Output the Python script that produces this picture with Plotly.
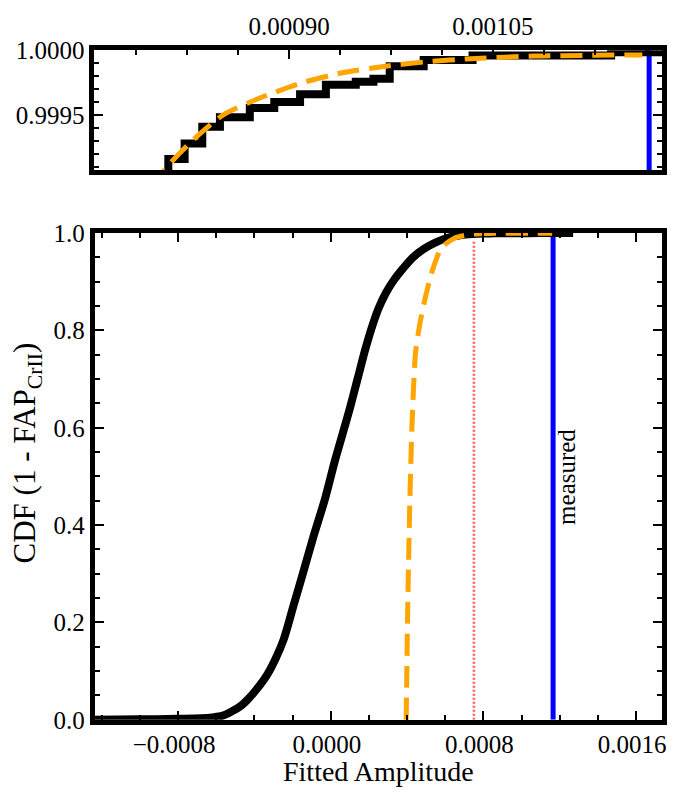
import plotly.graph_objects as go

W, H = 674, 800

# Empirical CDF of the fitted amplitudes: smooth body of the distribution
cdf_x = [-0.00130, -0.00100, -0.00080, -0.00068, -0.00062, -0.00057, -0.00052,
         -0.00047, -0.000437, -0.00039, -0.000333, -0.00029, -0.000247, -0.000195,
         -0.000143, -0.000092, -0.000031, 0.00002, 0.00006, 0.00010, 0.00014,
         0.00018, 0.00021, 0.00025, 0.00029, 0.00033, 0.00038, 0.00043, 0.00049,
         0.00055, 0.00061, 0.00067, 0.00072, 0.00077]
cdf_y = [0.0, 0.001, 0.002, 0.003, 0.005, 0.008, 0.017,
         0.029, 0.041, 0.062, 0.093, 0.125, 0.165, 0.235,
         0.305, 0.375, 0.453, 0.53, 0.585, 0.64, 0.70,
         0.76, 0.80, 0.845, 0.878, 0.903, 0.928, 0.95, 0.968,
         0.981, 0.990, 0.995, 0.9975, 0.9988]

# Upper tail of the same CDF (individual steps)
tail_x = [0.000811, 0.000823, 0.000836, 0.000849, 0.000871, 0.000889, 0.000908,
          0.000927, 0.000949, 0.000962, 0.000974, 0.000999, 0.001035, 0.001137,
          0.00127]
tail_y = [0.999164, 0.999283, 0.999413, 0.999486, 0.999556, 0.999603, 0.999662,
          0.999734, 0.999758, 0.999781, 0.999877, 0.999924, 0.999960, 0.999985,
          1.0]

# Fitted model CDF
fit_x = [0.000395, 0.000398, 0.000402, 0.000408, 0.000415, 0.000425, 0.000444,
         0.000465, 0.000487, 0.000528, 0.00058, 0.00065, 0.00072, 0.000765,
         0.000808, 0.00083, 0.000852, 0.000877, 0.000908, 0.00094, 0.000971,
         0.001002, 0.001034, 0.00108, 0.00116]
fit_y = [0.0, 0.08, 0.2, 0.33, 0.46, 0.6, 0.754,
         0.81, 0.853, 0.918, 0.97, 0.99, 0.9966, 0.9984,
         0.99908, 0.999318, 0.999508, 0.999627, 0.999746, 0.999829, 0.999877,
         0.999912, 0.999935, 0.999955, 0.999964]

measured_amp = 0.001165      # measured amplitude
threshold_amp = 0.000750     # detection threshold
threshold_top = 0.985

all_x = cdf_x + tail_x
all_y = cdf_y + tail_y

FONT = "Liberation Serif"
BLACK_W = 8
ORANGE = "#FFA500"
DASH = "22px,10px"

fig = go.Figure()

# ---- lower panel (x2, y2) ----
fig.add_trace(go.Scatter(x=[measured_amp, measured_amp], y=[0, 1], xaxis="x2", yaxis="y2",
                         mode="lines", line=dict(color="#0000FF", width=5)))
fig.add_trace(go.Scatter(x=[threshold_amp, threshold_amp], y=[0, threshold_top],
                         xaxis="x2", yaxis="y2", mode="lines",
                         line=dict(color="rgba(255,50,50,0.8)", width=2.5, dash="2px,2px")))
fig.add_trace(go.Scatter(x=all_x, y=all_y, xaxis="x2", yaxis="y2", mode="lines",
                         line=dict(color="black", width=BLACK_W, shape="spline",
                                   smoothing=0.8)))
fig.add_trace(go.Scatter(x=fit_x, y=fit_y, xaxis="x2", yaxis="y2", mode="lines",
                         line=dict(color=ORANGE, width=5, dash=DASH, shape="spline",
                                   smoothing=0.6)))

# ---- upper zoom panel (x, y) ----
fig.add_trace(go.Scatter(x=[measured_amp, measured_amp], y=[0, 1], xaxis="x", yaxis="y",
                         mode="lines", line=dict(color="#0000FF", width=5)))
fig.add_trace(go.Scatter(x=all_x, y=all_y, xaxis="x", yaxis="y", mode="lines",
                         line=dict(color="black", width=BLACK_W, shape="hv")))
fig.add_trace(go.Scatter(x=fit_x, y=fit_y, xaxis="x", yaxis="y", mode="lines",
                         line=dict(color=ORANGE, width=5, dash=DASH, shape="spline",
                                   smoothing=0.6)))

tickfont = dict(family=FONT, size=25, color="black")
frame = dict(showline=True, linecolor="black", linewidth=5, showgrid=False,
             zeroline=False, ticks="inside", tickcolor="black", tickwidth=1.5,
             tickfont=tickfont)

def px_x(p):
    return p / W

def px_y(p):
    return 1 - p / H

fig.update_layout(
    width=W, height=H,
    margin=dict(l=0, r=0, t=0, b=0),
    paper_bgcolor="white", plot_bgcolor="white",
    showlegend=False,
    xaxis=dict(frame, domain=[px_x(95), px_x(666)], anchor="y", side="top",
               range=[0.0007566, 0.0011745], mirror=True,
               tick0=0.0009, dtick=0.00015, tickformat=".5f", ticklen=9,
               minor=dict(tick0=0.0009, dtick=0.0000375, ticks="inside",
                          ticklen=5, tickwidth=1.5, tickcolor="black")),
    yaxis=dict(frame, domain=[px_y(162.5), px_y(38.5)], anchor="x",
               range=[0.99908, 1.0], mirror="ticks",
               tickvals=[0.9995, 1.0], ticktext=["0.9995", "1.0000"], ticklen=9,
               minor=dict(tick0=1.0, dtick=0.0001, ticks="inside",
                          ticklen=5, tickwidth=1.5, tickcolor="black")),
    xaxis2=dict(frame, domain=[px_x(95.3), px_x(666.2)], anchor="y2",
                range=[-0.001237, 0.001737], mirror="ticks",
                tick0=0, dtick=0.0008, tickformat=".4f", ticklen=9,
                ticklabelshift=-4, ticklabelstandoff=-2,
                minor=dict(tick0=0, dtick=0.0002, ticks="inside",
                           ticklen=5, tickwidth=1.5, tickcolor="black")),
    yaxis2=dict(frame, domain=[px_y(731.5), px_y(227.8)], anchor="x2",
                range=[0, 1], mirror="ticks",
                tick0=0, dtick=0.2, tickformat=".1f", ticklen=9,
                minor=dict(tick0=0, dtick=0.05, ticks="inside",
                           ticklen=5, tickwidth=1.5, tickcolor="black")),
)

fig.add_annotation(text="Fitted Amplitude", xref="x2 domain", yref="paper",
                   x=0.5, y=px_y(785), xanchor="center", yanchor="middle",
                   showarrow=False, font=dict(family=FONT, size=28, color="black"))
fig.add_annotation(text="CDF (1 - FAP<sub>CrII</sub>)", xref="paper", yref="paper",
                   x=px_x(27), y=px_y(455), xanchor="center", yanchor="middle",
                   textangle=-90, showarrow=False,
                   font=dict(family=FONT, size=31, color="black"))
fig.add_annotation(text="measured", xref="x2", yref="y2",
                   x=0.001235, y=0.5, xanchor="center", yanchor="middle",
                   textangle=-90, showarrow=False,
                   font=dict(family=FONT, size=25, color="black"))

fig.write_html("out.html",
               post_script="document.body.style.margin='0';document.body.style.padding='0';")
